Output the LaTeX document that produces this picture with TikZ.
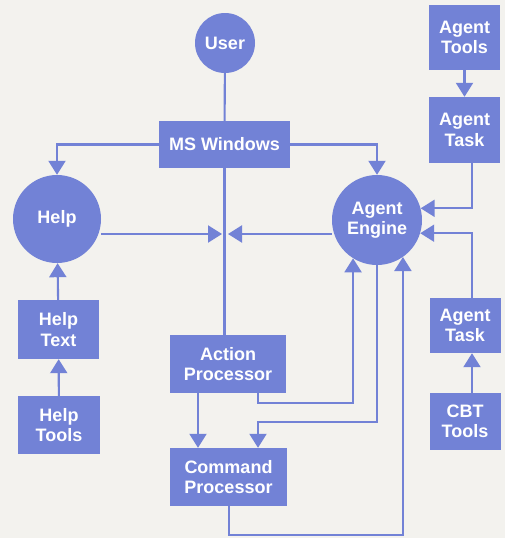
\documentclass[tikz,border=0pt]{standalone}
\usepackage{fontspec}
\setmainfont{Liberation Sans}
\usetikzlibrary{arrows.meta}
\definecolor{hpblue}{RGB}{114,130,214}
\definecolor{paper}{RGB}{243,242,238}
\tikzset{
  blk/.style={fill=hpblue, draw=none, text=white, inner sep=0pt, align=center,
    font=\fontsize{18}{20.5}\selectfont\bfseries},
  boxn/.style={blk, rectangle},
  circn/.style={blk, circle},
  wire/.style={draw=hpblue, line width=2.1pt},
  arr/.style={wire, -{Triangle[length=14pt,width=17pt]}}
}
\begin{document}
\begin{tikzpicture}[x=1pt,y=-1pt]
\fill[paper] (0,0) rectangle (505,538);
\useasboundingbox (0,0) rectangle (505,538);

% nodes
\node[circn, minimum size=60pt] (user) at (225,43) {User};
\node[boxn, minimum width=131pt, minimum height=47pt] (msw) at (224.5,144.5) {MS Windows};
\node[circn, minimum size=88pt] (help) at (57,219) {Help};
\node[boxn, minimum width=81pt, minimum height=59pt] (helptext) at (58.5,329.5) {Help\\Text};
\node[boxn, minimum width=82pt, minimum height=58pt] (helptools) at (59,425) {Help\\Tools};
\node[circn, minimum size=90pt] (engine) at (377,220) {Agent\\Engine};
\node[boxn, minimum width=71pt, minimum height=65pt] (atools) at (464.5,37.5) {Agent\\Tools};
\node[boxn, minimum width=71pt, minimum height=66pt] (atask1) at (464.5,130) {Agent\\Task};
\node[boxn, minimum width=71pt, minimum height=55pt] (atask2) at (465,325.5) {Agent\\Task};
\node[boxn, minimum width=71pt, minimum height=57pt] (cbt) at (465,421.5) {CBT\\Tools};
\node[boxn, minimum width=116pt, minimum height=58pt] (ap) at (228,364) {Action\\Processor};
\node[boxn, minimum width=117pt, minimum height=58pt] (cp) at (228.5,477) {Command\\Processor};

% helper coordinates
\coordinate (meet) at (225,234);
\coordinate (b1) at (258,422);
\coordinate (b2) at (258,403);
\coordinate (b3) at (198,0);
\coordinate (b4) at (229,535);
\coordinate (b5) at (472,0);

% connectors
\draw[wire] (user) -- (msw);
\draw[wire] (msw.south) -- (msw.south |- ap.north);
\draw[arr] (msw.west) -| (help.north);
\draw[arr] (msw.east) -| (engine.north);
\draw[arr, shorten >=3pt] (meet -| help.east) -- (meet);
\draw[arr, shorten >=3pt] (meet -| engine.west) -- (meet);
\draw[arr] (helptools) -- (helptext);
\draw[arr] (helptext) -- (help);
\draw[arr] (b3 |- ap.south) -- (b3 |- cp.north);
\draw[arr] (b2 |- ap.south) -- (b2) -| (engine.-122);
\draw[arr] (engine.south) |- (b1) -- (b1 |- cp.north);
\draw[arr] (b4 |- cp.south) -- (b4) -| (engine.-55);
\draw[arr] (atools) -- (atask1);
\draw[arr] (b5 |- atask1.south) |- (engine.15);
\draw[arr] (b5 |- atask2.north) |- (engine.-17);
\draw[arr] (cbt.north -| b5) -- (atask2.south -| b5);
\end{tikzpicture}
\end{document}
